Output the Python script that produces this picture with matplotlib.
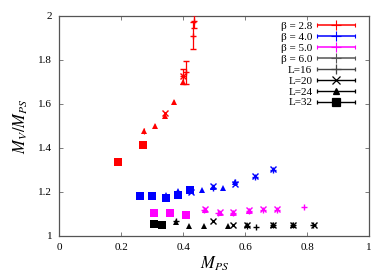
import numpy as np
import matplotlib
matplotlib.use("Agg")
import matplotlib.pyplot as plt
from matplotlib.container import ErrorbarContainer
from matplotlib.legend_handler import HandlerErrorbar

plt.rcParams['font.family'] = ['Liberation Serif', 'DejaVu Serif']
plt.rcParams['mathtext.fontset'] = 'stix'

# beta = 2.8 (red)
r32_x = [0.191, 0.272]
r32_y = [1.335, 1.414]
r24_x = [0.274, 0.309, 0.342, 0.371, 0.399]
r24_y = [1.477, 1.500, 1.547, 1.609, 1.702]
r24_e = [0.012, 0.010, 0.010, 0.008, 0.010]
r20_x = [0.342, 0.399]
r20_y = [1.557, 1.727]
r16_x = [0.400, 0.410, 0.431, 0.435]
r16_y = [1.725, 1.743, 1.911, 1.975]
r16_e = [0.035, 0.053, 0.060, 0.030]

# beta = 4.0 (blue)
b32_x = [0.261, 0.301, 0.344, 0.383, 0.423]
b32_y = [1.180, 1.180, 1.172, 1.187, 1.207]
b24_x = [0.344, 0.383, 0.423, 0.460, 0.497, 0.530, 0.566]
b24_y = [1.188, 1.203, 1.210, 1.208, 1.222, 1.220, 1.245]
b20_x = [0.425, 0.496, 0.566, 0.632, 0.691]
b20_y = [1.200, 1.228, 1.235, 1.272, 1.305]
b16_x = [0.496, 0.566, 0.632, 0.691]
b16_y = [1.220, 1.245, 1.268, 1.298]

# beta = 5.0 (magenta)
m32_x = [0.305, 0.357, 0.409]
m32_y = [1.103, 1.103, 1.094]
m24_x = [0.469, 0.519, 0.562, 0.611]
m24_y = [1.118, 1.106, 1.104, 1.112]
m20_x = [0.469, 0.519, 0.562, 0.611, 0.659, 0.704]
m20_y = [1.122, 1.109, 1.107, 1.116, 1.122, 1.122]
m16_x = [0.466, 0.512, 0.562, 0.611, 0.659, 0.704, 0.791]
m16_y = [1.117, 1.105, 1.104, 1.113, 1.118, 1.118, 1.131]

# beta = 6.0 (black)
k32_x = [0.307, 0.331]
k32_y = [1.054, 1.051]
k24_x = [0.376, 0.419, 0.468, 0.546, 0.606, 0.691, 0.753]
k24_y = [1.063, 1.047, 1.047, 1.047, 1.048, 1.048, 1.048]
k20_x = [0.498, 0.562, 0.607, 0.689, 0.756, 0.823]
k20_y = [1.066, 1.051, 1.048, 1.048, 1.048, 1.048]
k16_x = [0.376, 0.606, 0.634, 0.689, 0.753, 0.818]
k16_y = [1.066, 1.047, 1.039, 1.048, 1.048, 1.048]

betas = ["2.8", "4.0", "5.0", "6.0"]
colors = ["#ff0000", "#0000ff", "#ff00ff", "#000000"]

fig = plt.figure(figsize=(3.74, 2.75), dpi=100)
ax = fig.add_axes([0.158, 0.142, 0.829, 0.80])

def draw(x16, y16, x20, y20, x24, y24, x32, y32, c, e16=None, e24=None):
    ax.errorbar(x32, y32, fmt='s', color=c, ms=5.5, mew=0, zorder=3)
    ax.errorbar(x24, y24, yerr=e24, fmt='^', color=c, ms=4.5, mew=0,
                elinewidth=0.8, capsize=1.5, zorder=3)
    ax.errorbar(x20, y20, fmt='x', color=c, ms=5, mew=1.0, zorder=3)
    ax.errorbar(x16, y16, yerr=e16, fmt='+', color=c, ms=5, mew=1.0,
                elinewidth=0.9, capsize=2, zorder=3)

draw(r16_x, r16_y, r20_x, r20_y, r24_x, r24_y, r32_x, r32_y, colors[0], r16_e, r24_e)
draw(b16_x, b16_y, b20_x, b20_y, b24_x, b24_y, b32_x, b32_y, colors[1])
draw(m16_x, m16_y, m20_x, m20_y, m24_x, m24_y, m32_x, m32_y, colors[2])
draw(k16_x, k16_y, k20_x, k20_y, k24_x, k24_y, k32_x, k32_y, colors[3])

# legend handles
handles = []
labels = []
for b, c in zip(betas, colors):
    col = c if c != "#000000" else "#555555"
    h = ax.errorbar([np.nan], [np.nan], xerr=[1], fmt='+', color=col,
                    ms=7, mew=0.8, elinewidth=1.1, capsize=1.5)
    handles.append(h)
    labels.append("\u03b2 = " + b)
for m, ms, lab, col in [('+', 7, "L=16", "#444444"), ('x', 5.5, "L=20", "black"),
                        ('^', 5, "L=24", "black"), ('s', 5.5, "L=32", "black")]:
    h = ax.errorbar([np.nan], [np.nan], xerr=[1], fmt=m, color=col, ms=ms, mew=0.9,
                    elinewidth=1.0, capsize=1.5)
    handles.append(h)
    labels.append(lab)
leg = ax.legend(handles, labels, loc='upper right', markerfirst=False, frameon=False,
                fontsize=8, handlelength=3.4, labelspacing=0.1, handletextpad=0.45,
                borderaxespad=0, borderpad=0.2, bbox_to_anchor=(0.962, 0.985),
                handler_map={ErrorbarContainer: HandlerErrorbar(xerr_size=1.7)})

ax.set_xlim(0, 1)
ax.set_ylim(1, 2)
ax.set_xticks([0, 0.2, 0.4, 0.6, 0.8, 1])
ax.set_xticklabels(["0", "0.2", "0.4", "0.6", "0.8", "1"])
ax.set_yticks([1, 1.2, 1.4, 1.6, 1.8, 2])
ax.set_yticklabels(["1", "1.2", "1.4", "1.6", "1.8", "2"])
ax.tick_params(direction='in', top=True, right=True, labelsize=8, length=3,
               width=0.6, color='#666666', pad=5)
for s in ax.spines.values():
    s.set_color('#555555')
    s.set_linewidth(0.9)
ax.set_xlabel(r"$M_{PS}$", fontsize=12, labelpad=2)
ax.set_ylabel(r"$M_V/M_{PS}$", fontsize=12, labelpad=6)

fig.savefig("out.png", dpi=100)
